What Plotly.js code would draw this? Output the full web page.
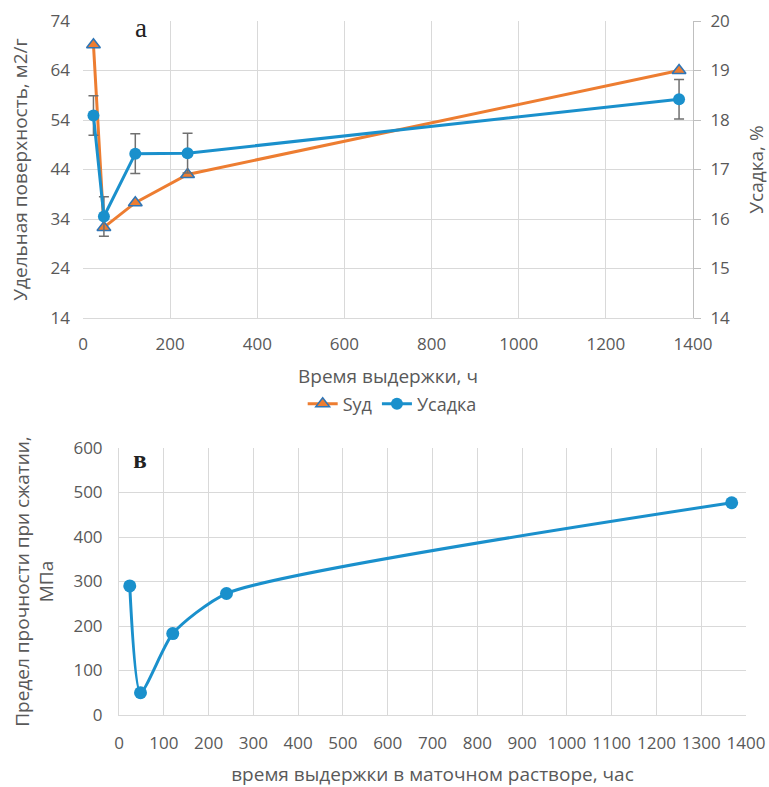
<!DOCTYPE html>
<html><head><meta charset="utf-8">
<script src="https://cdn.plot.ly/plotly-3.0.1.min.js"></script>
<style>html,body{margin:0;padding:0;background:#fff}#c{width:769px;height:787px}</style>
</head><body><div id="c"></div>
<script>
// Top chart (а)
const timeH = [24, 48, 120, 240, 1368];
const sud = [69.2, 32.3, 37.3, 43.0, 64.0];
const usadka = [18.09, 16.05, 17.32, 17.33, 18.42];
const usadkaErr = [0.4, 0.4, 0.4, 0.4, 0.4];
// Bottom chart (в)
const strength = [290, 50, 183, 273, 477];

const orange = '#ED7D31', blue = '#1A90CC', grid = '#D9D9D9', txt = '#595959';
const F = 'Open Sans, Liberation Sans, Arial, sans-serif';

const traces = [
  {x: timeH, y: sud, name: 'Sуд', type: 'scatter', mode: 'lines+markers',
   xaxis: 'x', yaxis: 'y',
   line: {color: orange, width: 3},
   marker: {symbol: 'triangle-up', size: 12, color: orange, line: {color: '#2E75B6', width: 1.5}}},
  {x: timeH, y: usadka, name: 'Усадка', type: 'scatter', mode: 'lines+markers',
   xaxis: 'x', yaxis: 'y2',
   line: {color: blue, width: 3},
   marker: {symbol: 'circle', size: 12, color: blue},
   error_y: {type: 'data', array: usadkaErr, visible: true, color: '#707070', thickness: 1.5, width: 5}},
  {x: timeH, y: strength, name: 'strength', type: 'scatter', mode: 'lines+markers',
   xaxis: 'x2', yaxis: 'y3', showlegend: false,
   line: {color: blue, width: 3, shape: 'spline', smoothing: 0.6},
   marker: {symbol: 'circle', size: 13, color: blue}}
];

const tf = {family: F, size: 17, color: txt};
const ttl = {family: F, size: 19, color: txt};
const layout = {
  width: 769, height: 787,
  margin: {l: 0, r: 0, t: 0, b: 0},
  paper_bgcolor: '#fff', plot_bgcolor: '#fff',
  font: {family: F, color: txt},
  showlegend: true,
  legend: {orientation: 'h', x: 0.51, xanchor: 'center', y: 1 - 404/787, yanchor: 'middle',
    font: {family: F, size: 18, color: txt}, tracegroupgap: 0},
  xaxis: {domain: [83/769, 693/769], anchor: 'y', range: [0, 1400], dtick: 200,
    showgrid: true, gridcolor: grid, zeroline: false, showline: true, linecolor: grid,
    tickfont: tf, ticks: '', ticklabelstandoff: 11,
    title: {text: 'Время выдержки, ч', font: ttl, standoff: 15}},
  yaxis: {domain: [1 - 318/787, 1 - 21/787], anchor: 'x', range: [14, 74], tick0: 14, dtick: 10,
    showgrid: true, gridcolor: grid, zeroline: false, showline: false,
    tickfont: tf, ticks: '', ticklabelstandoff: 12,
    title: {text: 'Удельная поверхность, м2/г', font: ttl, standoff: 17}},
  yaxis2: {overlaying: 'y', side: 'right', anchor: 'x', range: [14, 20], dtick: 1,
    showgrid: false, zeroline: false, showline: true, linecolor: '#BFBFBF',
    ticks: 'outside', ticklen: 7, tickcolor: '#BFBFBF',
    tickfont: tf, ticklabelstandoff: 6,
    title: {text: 'Усадка, %', font: ttl, standoff: 21}},
  xaxis2: {domain: [119/769, 746/769], anchor: 'y3', range: [0, 1400], dtick: 100,
    showgrid: true, gridcolor: grid, zeroline: false, showline: true, linecolor: grid,
    tickfont: tf, ticks: '', ticklabelstandoff: 13,
    title: {text: 'время выдержки в маточном растворе, час', font: ttl, standoff: 15}},
  yaxis3: {domain: [1 - 715/787, 1 - 448/787], anchor: 'x2', range: [0, 600], dtick: 100,
    showgrid: true, gridcolor: grid, zeroline: false, showline: true, linecolor: grid,
    tickfont: tf, ticks: '', ticklabelstandoff: 12,
    title: {text: 'Предел прочности при сжатии,<br>МПа', font: ttl, standoff: 14}},
  annotations: [
    {xref: 'paper', yref: 'paper', x: 141/769, y: 1 - 28/787, text: 'а', showarrow: false,
     font: {family: 'Liberation Serif, serif', size: 27, color: '#222'}, bgcolor: '#fff',
     xanchor: 'center', yanchor: 'middle', borderpad: 1, width: 30},
    {xref: 'paper', yref: 'paper', x: 140/769, y: 1 - 459/787, text: '<b>в</b>', showarrow: false,
     font: {family: 'Liberation Serif, serif', size: 25, color: '#222'}, bgcolor: '#fff',
     xanchor: 'center', yanchor: 'middle', borderpad: 1, width: 32}
  ]
};
Plotly.newPlot('c', traces, layout, {displayModeBar: false, staticPlot: true});
</script></body></html>
